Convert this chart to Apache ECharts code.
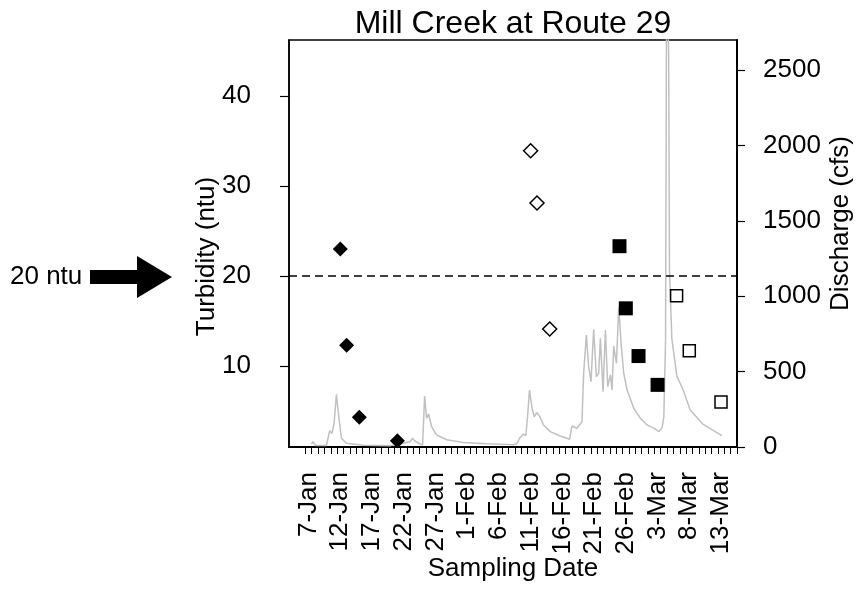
<!DOCTYPE html>
<html>
<head>
<meta charset="utf-8">
<title>Mill Creek at Route 29</title>
<script src="https://cdn.jsdelivr.net/npm/echarts@6/dist/echarts.min.js"></script>
<style>
  html, body { margin: 0; padding: 0; background: #fff; }
  #chart { width: 863px; height: 603px; }
</style>
</head>
<body>
<div id="chart"></div>
<script>
// Turbidity samples (ntu), grouped by marker style
const filledDiamondDates = ['12-Jan', '13-Jan', '15-Jan', '21-Jan'];
const filledDiamondNtu   = [23.0, 12.3, 4.3, 1.7];
const openDiamondDates   = ['11-Feb', '12-Feb', '14-Feb'];
const openDiamondNtu     = [33.9, 28.1, 14.1];
const filledSquareDates  = ['25-Feb', '26-Feb', '28-Feb', '3-Mar'];
const filledSquareNtu    = [23.3, 16.4, 11.1, 7.9];
const openSquareDates    = ['6-Mar', '8-Mar', '13-Mar'];
const openSquareNtu      = [17.8, 11.7, 6.0];

// Stream discharge (cfs); time as day of year with fractional days
const dischargeDay = [
  7.44, 7.70, 8.12, 9.81, 10.33, 10.70, 11.02, 11.39, 11.70, 12.18, 12.97, 15.60, 19.81,
  22.97, 23.39, 23.76, 24.55, 24.97, 25.29, 25.60, 25.92, 26.39, 27.18, 28.76, 31.40, 35.08,
  39.30, 39.82, 40.24, 40.88, 41.24, 41.51, 41.82, 42.19, 42.56, 42.98, 43.40, 44.03, 45.09,
  46.67, 48.14, 48.51, 48.77, 49.30, 50.09, 50.35, 50.78, 51.14, 51.51, 51.93, 52.36, 52.72,
  52.99, 53.41, 53.78, 54.15, 54.57, 54.83, 55.09, 55.52, 55.88, 56.25, 56.67, 57.20, 58.25,
  59.31, 60.36, 60.89, 61.41, 62.20, 62.73, 62.99, 63.26, 63.45, 63.75, 63.88, 64.25, 65.04,
  66.04, 67.14, 69.20, 72.14
];
const dischargeCfs = [
  20, 35, 10, 10, 108, 90, 157, 350, 224, 58, 25, 12, 8,
  35, 58, 40, 20, 15, 338, 190, 219, 135, 80, 48, 30, 22,
  15, 22, 58, 86, 75, 201, 378, 263, 201, 228, 205, 146, 102,
  73, 51, 139, 146, 124, 168, 489, 743, 533, 433, 781, 467, 489,
  721, 367, 776, 400, 478, 378, 670, 555, 931, 688, 489, 378, 257,
  190, 146, 135, 125, 102, 130, 201, 708, 3400, 2600, 1174, 720, 470,
  378, 245, 150, 75
];

// Axis ticks and labels
const dateTickLabels = ['7-Jan', '12-Jan', '17-Jan', '22-Jan', '27-Jan', '1-Feb', '6-Feb',
  '11-Feb', '16-Feb', '21-Feb', '26-Feb', '3-Mar', '8-Mar', '13-Mar'];
const turbidityTicks = [10, 20, 30, 40];
const dischargeTicks = [0, 500, 1000, 1500, 2000, 2500];
const thresholdNtu = 20;

const monthNames = ['Jan', 'Feb', 'Mar'];
const monthStart = { Jan: 0, Feb: 31, Mar: 59 };

function toDay(label) {
  const parts = label.split('-');
  return monthStart[parts[1]] + Number(parts[0]);
}
function toLabel(day) {
  const d = Math.round(day);
  for (let i = monthNames.length - 1; i >= 0; i--) {
    const m = monthNames[i];
    if (d > monthStart[m]) return (d - monthStart[m]) + '-' + m;
  }
  return String(d);
}
function pairs(dates, values) {
  return dates.map((s, i) => [toDay(s), values[i]]);
}

// daily ticks fall on the boundaries between days
const dayTicks = [];
for (let d = 6.5; d <= 74.5; d += 1) dayTicks.push(d);

const FONT = '"Liberation Sans", Arial, sans-serif';
const FS = 26;
const chart = echarts.init(document.getElementById('chart'), null, { renderer: 'canvas' });

chart.setOption({
  animation: false,
  backgroundColor: '#fff',
  textStyle: { fontFamily: FONT, color: '#000' },
  title: {
    text: 'Mill Creek at Route 29',
    left: 513,
    textAlign: 'center',
    top: 8,
    padding: 0,
    textStyle: { fontFamily: FONT, fontSize: 32, fontWeight: 'normal', color: '#000' }
  },
  grid: {
    left: 289, right: 126, top: 40, bottom: 156,
    show: true, borderColor: '#000', borderWidth: 1.5, backgroundColor: 'transparent'
  },
  xAxis: {
    type: 'value',
    min: 3.915,
    max: 74.52,
    name: 'Sampling Date',
    nameLocation: 'middle',
    nameGap: 109,
    nameMoveOverlap: false,
    nameTextStyle: { fontFamily: FONT, fontSize: FS, color: '#000' },
    axisLine: { show: true, onZero: false, lineStyle: { color: '#000', width: 2 } },
    axisTick: {
      show: true, inside: false, length: 7,
      customValues: dayTicks,
      lineStyle: { color: '#000', width: 1 }
    },
    axisLabel: {
      customValues: dateTickLabels.map(toDay),
      formatter: v => toLabel(v),
      rotate: 90,
      margin: 25,
      fontFamily: FONT, fontSize: FS, color: '#000'
    },
    splitLine: { show: false }
  },
  yAxis: [
    {
      type: 'value',
      position: 'left',
      min: 1,
      max: 46.2,
      name: 'Turbidity (ntu)',
      nameLocation: 'middle',
      nameGap: 69,
      nameMoveOverlap: false,
      nameTextStyle: { fontFamily: FONT, fontSize: FS, color: '#000', padding: [0, 26, 0, 0] },
      axisLine: { show: true, onZero: false, lineStyle: { color: '#000', width: 1.5 } },
      axisTick: { show: true, inside: false, length: 9, customValues: turbidityTicks,
        lineStyle: { color: '#000', width: 1.2 } },
      axisLabel: { customValues: turbidityTicks, margin: 38,
        fontFamily: FONT, fontSize: FS, color: '#000' },
      splitLine: { show: false }
    },
    {
      type: 'value',
      position: 'right',
      min: 0,
      max: 2700,
      name: 'Discharge (cfs)',
      nameLocation: 'middle',
      nameGap: 91,
      nameMoveOverlap: false,
      nameTextStyle: { fontFamily: FONT, fontSize: FS, color: '#000', padding: [0, 0, 0, 40] },
      axisLine: { show: true, onZero: false, lineStyle: { color: '#000', width: 2 } },
      axisTick: { show: true, inside: false, length: 8, customValues: dischargeTicks,
        lineStyle: { color: '#000', width: 1.2 } },
      axisLabel: { customValues: dischargeTicks, margin: 26, formatter: v => String(v),
        fontFamily: FONT, fontSize: FS, color: '#000' },
      splitLine: { show: false }
    }
  ],
  series: [
    {
      name: 'Discharge',
      type: 'line',
      yAxisIndex: 1,
      data: dischargeDay.map((d, i) => [d, dischargeCfs[i]]),
      showSymbol: false,
      symbol: 'none',
      clip: true,
      lineStyle: { color: '#c0c0c0', width: 1.5 },
      z: 1
    },
    {
      name: 'Turbidity A',
      type: 'scatter',
      yAxisIndex: 0,
      symbol: 'diamond',
      symbolSize: 15,
      itemStyle: { color: '#000', opacity: 1 },
      data: pairs(filledDiamondDates, filledDiamondNtu),
      z: 3,
      markLine: {
        silent: true,
        symbol: 'none',
        label: { show: false },
        lineStyle: { color: '#000', width: 1.5, type: [8, 5] },
        data: [{ yAxis: thresholdNtu }]
      }
    },
    {
      name: 'Turbidity B',
      type: 'scatter',
      yAxisIndex: 0,
      symbol: 'diamond',
      symbolSize: 14,
      itemStyle: { color: '#fff', borderColor: '#000', borderWidth: 1.5, opacity: 1 },
      data: pairs(openDiamondDates, openDiamondNtu),
      z: 3
    },
    {
      name: 'Turbidity C',
      type: 'scatter',
      yAxisIndex: 0,
      symbol: 'rect',
      symbolSize: 14,
      itemStyle: { color: '#000', opacity: 1 },
      data: pairs(filledSquareDates, filledSquareNtu),
      z: 3
    },
    {
      name: 'Turbidity D',
      type: 'scatter',
      yAxisIndex: 0,
      symbol: 'rect',
      symbolSize: 12,
      itemStyle: { color: '#fff', borderColor: '#000', borderWidth: 1.5, opacity: 1 },
      data: pairs(openSquareDates, openSquareNtu),
      z: 3
    }
  ],
  graphic: [
    {
      type: 'text',
      left: 10,
      top: 264,
      style: { text: '20 ntu', font: FS + 'px ' + FONT, fill: '#000' }
    },
    {
      type: 'polygon',
      shape: { points: [[90, 270], [137, 270], [137, 256], [172, 277], [137, 298], [137, 284], [90, 284]] },
      style: { fill: '#000' }
    }
  ]
});
</script>
</body>
</html>
